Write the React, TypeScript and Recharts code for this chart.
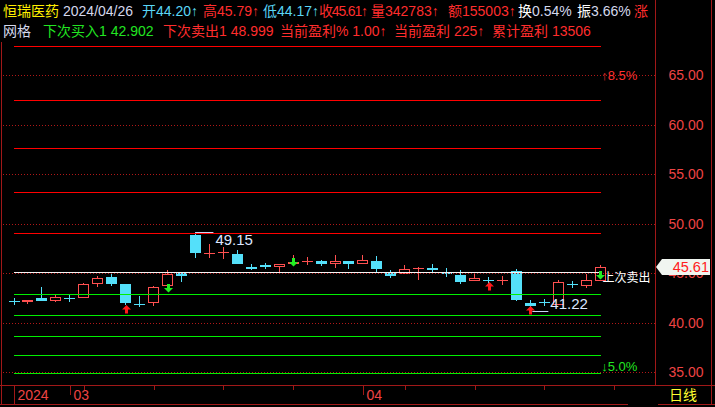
import { ComposedChart, Bar, XAxis, YAxis, ReferenceLine, ReferenceDot } from "recharts"

// trading days shown (last three are empty future slots)
const dates = [
  "2024-02-26", "2024-02-27", "2024-02-28", "2024-02-29",
  "2024-03-01", "2024-03-04", "2024-03-05", "2024-03-06", "2024-03-07", "2024-03-08",
  "2024-03-11", "2024-03-12", "2024-03-13", "2024-03-14", "2024-03-15",
  "2024-03-18", "2024-03-19", "2024-03-20", "2024-03-21", "2024-03-22",
  "2024-03-25", "2024-03-26", "2024-03-27", "2024-03-28", "2024-03-29",
  "2024-04-01", "2024-04-02", "2024-04-03",
  "2024-04-08", "2024-04-09", "2024-04-10", "2024-04-11", "2024-04-12",
  "2024-04-15", "2024-04-16", "2024-04-17", "2024-04-18", "2024-04-19",
  "2024-04-22", "2024-04-23", "2024-04-24", "2024-04-25", "2024-04-26",
  "2024-04-29", "2024-04-30", "2024-05-06",
]

const opens = [
  42.18, 42.11, 42.49, 42.21, 42.49, 42.52, 43.92, 44.6, 43.89, 41.88,
  41.95, 43.72, 45.03, 48.85, 47.04, 47.14, 46.91, 45.57, 45.8, 45.57,
  46.05, 46.18, 46.2, 45.94, 46.2, 45.94, 46.2, 45.03, 44.87, 45.47,
  45.47, 45.07, 44.8, 44.17, 44.27, 44.3, 45.2, 41.95, 42.12, 41.78,
  43.9, 43.72, 44.2,
]
const highs = [
  42.52, 42.28, 43.59, 42.76, 42.79, 43.96, 44.7, 44.87, 43.89, 42.69,
  43.72, 45.3, 45.03, 49.15, 47.92, 47.59, 47.31, 45.9, 46.0, 45.87,
  46.81, 46.61, 46.34, 46.81, 46.2, 46.81, 46.71, 45.3, 45.8, 45.63,
  45.9, 45.5, 45.3, 45.03, 44.63, 44.73, 45.43, 42.28, 42.38, 44.27,
  44.2, 44.9, 45.79,
]
const lows = [
  41.78, 41.85, 42.21, 42.08, 42.08, 42.52, 43.62, 43.72, 41.75, 41.58,
  41.71, 43.72, 44.12, 46.54, 46.54, 46.41, 45.94, 45.3, 45.4, 45.1,
  45.9, 45.8, 45.73, 45.5, 45.4, 45.94, 45.07, 44.53, 44.87, 44.3,
  44.9, 44.63, 43.9, 44.17, 43.9, 43.8, 42.18, 41.22, 41.68, 41.78,
  43.46, 43.52, 44.17,
]
const closes = [
  42.17, 42.28, 42.21, 42.59, 42.48, 43.86, 44.47, 43.92, 42.01, 41.87,
  43.56, 44.9, 44.73, 47.04, 47.05, 47.15, 45.94, 45.56, 45.6, 45.87,
  46.08, 46.19, 45.9, 46.18, 45.9, 46.28, 45.4, 44.73, 45.37, 45.48,
  45.46, 44.9, 44.1, 44.5, 44.26, 44.31, 42.28, 41.71, 42.11, 44.1,
  43.89, 44.27, 45.61,
]

// grid trading levels
const sellLevels = [67.9, 62.52, 57.68, 53.14, 48.999]
const baseLevel = 45.08
const buyLevels = [42.902, 40.73, 38.62, 36.7, 34.88]

const priceTicks = [35, 40, 45, 50, 55, 60, 65]

// signal arrows: candle index + price where the arrow starts
const buyIdx = [8, 34, 37]
const buyAt = [41.78, 44.13, 41.68]
const sellIdx = [11, 20, 42]
const sellAt = [43.9, 46.55, 45.24]

const monthLabels: Record<string, string> = { "2024-02-26": "2024", "2024-03-01": "03", "2024-04-01": "04" }
const weekStarts = ["2024-03-04", "2024-03-11", "2024-03-18", "2024-03-25", "2024-04-08", "2024-04-15", "2024-04-22", "2024-04-29"]

const UP = "#ff5050"
const DOWN = "#54e0fa"
const FRAME = "#a01818"
const GRID = "#b01818"
const AXIS_TEXT = "#ee4444"
const FONT = "'Liberation Sans', 'Noto Sans CJK SC', sans-serif"

const data = dates.map((d, i) => ({
  date: d,
  range: i < opens.length ? [lows[i], highs[i]] : null,
  open: opens[i],
  high: highs[i],
  low: lows[i],
  close: closes[i],
}))

const lastIdx = opens.length - 1
const lastClose = closes[lastIdx]
const maxHigh = Math.max(...highs)
const maxIdx = highs.indexOf(maxHigh)
const minLow = Math.min(...lows)
const minIdx = lows.indexOf(minLow)

// 1px line snapped to the pixel grid
function CrispLine(props: any) {
  const { x1, x2, y1, stroke, strokeDasharray } = props
  const y = Math.round(y1) + 0.5
  return <line x1={Math.round(x1)} x2={Math.round(x2) + 1} y1={y} y2={y} stroke={stroke} strokeWidth={1} strokeDasharray={strokeDasharray} />
}

function Candle(props: any) {
  const { x, y, width, height, payload } = props
  if (!payload || payload.open == null || payload.range == null) return null
  const top = Math.min(y, y + height)
  const bot = Math.max(y, y + height)
  const span = payload.high - payload.low
  const k = span > 0 ? (bot - top) / span : 0
  const py = (v: number) => top + (payload.high - v) * k
  const c = Math.round(x + width / 2)
  const up = payload.close >= payload.open
  const color = up ? UP : DOWN
  const yHi = Math.round(py(payload.high))
  const yLo = Math.round(py(payload.low))
  const yA = Math.round(py(Math.max(payload.open, payload.close)))
  const yB = Math.round(py(Math.min(payload.open, payload.close)))
  const wx = c + 0.5
  if (yB - yA <= 1) {
    return (
      <g>
        <line x1={wx} x2={wx} y1={yHi} y2={yLo} stroke={color} />
        <rect x={c - 5} y={yA} width={11} height={Math.max(1, yB - yA + (yB > yA ? 1 : 0))} fill={color} />
      </g>
    )
  }
  if (up) {
    return (
      <g>
        <line x1={wx} x2={wx} y1={yHi} y2={yA} stroke={color} />
        <line x1={wx} x2={wx} y1={yB} y2={yLo} stroke={color} />
        <rect x={c - 4.5} y={yA + 0.5} width={10} height={yB - yA - 1} fill="#000" stroke={color} />
      </g>
    )
  }
  return (
    <g>
      <line x1={wx} x2={wx} y1={yHi} y2={yLo} stroke={color} />
      <rect x={c - 5} y={yA} width={11} height={yB - yA} fill={color} />
    </g>
  )
}

function BuyArrow(props: any) {
  const { cx, cy } = props
  const c = Math.round(cx) + 0.5
  const t = Math.round(cy)
  return (
    <path
      d={`M${c} ${t} L${c + 4.5} ${t + 4.5} L${c + 1.5} ${t + 4.5} L${c + 1.5} ${t + 8.5} L${c - 1.5} ${t + 8.5} L${c - 1.5} ${t + 4.5} L${c - 4.5} ${t + 4.5} Z`}
      fill="#ff1a1a"
    />
  )
}

function SellArrow(props: any) {
  const { cx, cy, last } = props
  const c = Math.round(cx) + 0.5
  const t = Math.round(cy)
  return (
    <g>
      <path
        d={`M${c - 1.5} ${t} L${c + 1.5} ${t} L${c + 1.5} ${t + 4} L${c + 4.5} ${t + 4} L${c} ${t + 8.5} L${c - 4.5} ${t + 4} L${c - 1.5} ${t + 4} Z`}
        fill="#22ee22"
      />
      {last && (
        <text x={c + 2} y={t + 11} fill="#ffffff" fontSize={12} fontFamily={FONT}>
          上次卖出
        </text>
      )}
    </g>
  )
}

function HighMark(props: any) {
  const { cx, cy } = props
  const y = Math.round(cy) + 0.5
  return (
    <g>
      <line x1={cx} x2={cx + 18} y1={y} y2={y} stroke="#c8d6f4" />
      <text x={cx + 20} y={cy + 13} fill="#dce6ff" fontSize={15} fontFamily={FONT}>
        {maxHigh.toFixed(2)}
      </text>
    </g>
  )
}

function LowMark(props: any) {
  const { cx, cy } = props
  const y = Math.round(cy) + 0.5
  return (
    <g>
      <line x1={cx + 2} x2={cx + 18} y1={y} y2={y} stroke="#c8d6f4" />
      <text x={cx + 20} y={cy - 2} fill="#dce6ff" fontSize={15} fontFamily={FONT}>
        {minLow.toFixed(2)}
      </text>
    </g>
  )
}

function StepLabel(props: any) {
  const { cx, cy, text, color } = props
  return (
    <text x={cx + 1} y={cy + 5} fill={color} fontSize={13} fontFamily={FONT}>
      {text}
    </text>
  )
}

function DateTick(props: any) {
  const { x, y, payload } = props
  const d = payload.value
  const cx = Math.round(x) + 0.5
  const label = monthLabels[d]
  if (d === dates[0]) {
    return (
      <g>
        <line x1={cx} x2={cx} y1={y} y2={y + 20} stroke={FRAME} />
        <text x={cx + 3} y={y + 15} fill={AXIS_TEXT} fontSize={14} fontFamily={FONT}>{label}</text>
      </g>
    )
  }
  if (label) {
    return (
      <g>
        <line x1={cx} x2={cx} y1={y} y2={y + 10} stroke={FRAME} />
        <text x={cx + 3} y={y + 15} fill={AXIS_TEXT} fontSize={14} fontFamily={FONT}>{label}</text>
      </g>
    )
  }
  if (weekStarts.includes(d)) {
    return <line x1={cx} x2={cx} y1={y} y2={y + 5} stroke={FRAME} />
  }
  return <g />
}

function PriceTick(props: any) {
  const { x, y, payload } = props
  const v = payload.value
  if (v === lastClose) {
    return (
      <g>
        <path d={`M${x + 1} ${y} L${x + 7} ${y - 8} L${x + 55} ${y - 8} L${x + 55} ${y + 8} L${x + 7} ${y + 8} Z`} fill="#f0f5f0" />
        <text x={x + 54} y={y + 5} textAnchor="end" fill="#ff2020" fontSize={14.5} fontFamily={FONT}>
          {v.toFixed(2)}
        </text>
      </g>
    )
  }
  return (
    <text x={x + 31} y={y + 5} textAnchor="middle" fill={AXIS_TEXT} fontSize={14} fontFamily={FONT}>
      {v.toFixed(2)}
    </text>
  )
}

const RED = "#ff2d2d"
const CYAN = "#5ad6f6"
const GREEN = "#22e622"
const LIGHT = "#d4d8ec"

function Header() {
  const t = (x: number, y: number, fill: string, s: string, len?: number) => (
    <text x={x} y={y} fill={fill} fontSize={14} fontFamily={FONT} textLength={len}>{s}</text>
  )
  return (
    <svg width={655} height={42} style={{ position: "absolute", left: 0, top: 0 }}>
      {t(3, 16, "#ffee00", "恒瑞医药")}
      {t(63, 16, LIGHT, "2024/04/26")}
      {t(142, 16, CYAN, "开44.20↑")}
      {t(203, 16, RED, "高45.79↑")}
      {t(263, 16, CYAN, "低44.17↑")}
      {t(319, 16, RED, "收45.61↑", 49)}
      {t(371, 16, RED, "量342783↑")}
      {t(448, 16, RED, "额155003↑")}
      {t(518, 16, "#ffffff", "换")}
      {t(532, 16, LIGHT, "0.54%")}
      {t(577, 16, "#ffffff", "振")}
      {t(591, 16, LIGHT, "3.66%")}
      {t(634, 16, RED, "涨")}
      {t(3, 36, LIGHT, "网格")}
      {t(43, 36, GREEN, "下次买入1 42.902")}
      {t(163, 36, RED, "下次卖出1 48.999")}
      {t(280, 36, RED, "当前盈利% 1.00↑")}
      {t(394, 36, RED, "当前盈利 225↑")}
      {t(492, 36, RED, "累计盈利 13506")}
    </svg>
  )
}

function Frame() {
  const line = (left: number, top: number, width: number, height: number) => (
    <div style={{ position: "absolute", left, top, width, height, background: FRAME }} />
  )
  return (
    <>
      {line(1, 42, 1, 363)}
      {line(655, 0, 1, 385)}
      {line(711, 0, 1, 405)}
      {line(0, 385, 715, 1)}
      {line(0, 404, 628, 1)}
      {line(658, 404, 57, 1)}
      <div style={{ position: "absolute", left: 669, top: 386, color: "#ffff30", fontSize: 14, fontFamily: FONT, lineHeight: "18px" }}>
        日线
      </div>
    </>
  )
}

export default function App() {
  return (
    <div style={{ position: "absolute", left: 0, top: 0, width: 715, height: 407, background: "#000", overflow: "hidden" }}>
      <ComposedChart width={715} height={407} data={data} margin={{ top: 45, right: 0, left: 1, bottom: 0 }}>
        <XAxis
          dataKey="date"
          height={22}
          padding={{ left: 6, right: 6 }}
          axisLine={false}
          tickLine={false}
          tickSize={0}
          tickMargin={0}
          interval={0}
          tick={<DateTick />}
        />
        <YAxis
          orientation="right"
          width={60}
          type="number"
          domain={[33.7, 68.03]}
          allowDataOverflow
          ticks={[...priceTicks, lastClose]}
          interval={0}
          axisLine={false}
          tickLine={false}
          tickSize={0}
          tickMargin={0}
          tick={<PriceTick />}
        />
        {priceTicks.map((v) => (
          <ReferenceLine key={`g${v}`} y={v} stroke={GRID} strokeDasharray="1 2" shape={<CrispLine />} />
        ))}
        {sellLevels.map((v) => (
          <ReferenceLine key={`s${v}`} segment={[{ x: dates[0], y: v }, { x: dates[lastIdx], y: v }]} stroke="#ff0000" shape={<CrispLine />} />
        ))}
        <ReferenceLine segment={[{ x: dates[0], y: baseLevel }, { x: dates[lastIdx], y: baseLevel }]} stroke="#f4f4f4" shape={<CrispLine />} />
        {buyLevels.map((v) => (
          <ReferenceLine key={`b${v}`} segment={[{ x: dates[0], y: v }, { x: dates[lastIdx], y: v }]} stroke="#00f000" shape={<CrispLine />} />
        ))}
        <Bar dataKey="range" barSize={11} shape={<Candle />} isAnimationActive={false} />
        <ReferenceDot x={dates[maxIdx]} y={maxHigh} shape={<HighMark />} />
        <ReferenceDot x={dates[minIdx]} y={minLow} shape={<LowMark />} />
        {buyIdx.map((idx, i) => (
          <ReferenceDot key={`ba${idx}`} x={dates[idx]} y={buyAt[i]} shape={<BuyArrow />} />
        ))}
        {sellIdx.map((idx, i) => (
          <ReferenceDot key={`sa${idx}`} x={dates[idx]} y={sellAt[i]} shape={<SellArrow last={idx === lastIdx} />} />
        ))}
        <ReferenceDot x={dates[lastIdx]} y={65} shape={<StepLabel text="↑8.5%" color="#ff3030" />} />
        <ReferenceDot x={dates[lastIdx]} y={35.6} shape={<StepLabel text="↓5.0%" color="#22e622" />} />
      </ComposedChart>
      <Header />
      <Frame />
    </div>
  )
}
